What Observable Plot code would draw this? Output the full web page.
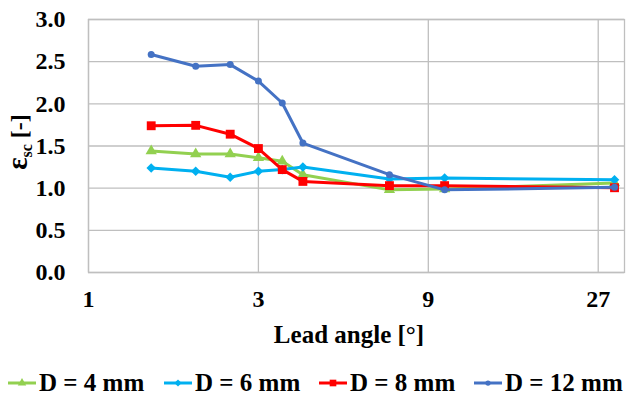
<!DOCTYPE html>
<html>
<head>
<meta charset="utf-8">
<script src="https://cdn.jsdelivr.net/npm/d3@7"></script>
<script src="https://cdn.jsdelivr.net/npm/@observablehq/plot@0.6"></script>
</head>
<body style="margin:0;background:#fff">
<div id="chart"></div>
<div id="legend" style="position:relative;height:47px"></div>
<script>
const angles = [1.5, 2, 2.5, 3, 3.5, 4, 7, 10, 30];
const seriesNames = ["D = 4 mm", "D = 6 mm", "D = 8 mm", "D = 12 mm"];
const d4  = [1.44, 1.405, 1.405, 1.36, 1.32, 1.16, 0.98, 0.99, 1.06];
const d6  = [1.24, 1.20, 1.13, 1.20, 1.22, 1.25, 1.11, 1.12, 1.10];
const d8  = [1.74, 1.745, 1.64, 1.47, 1.22, 1.08, 1.03, 1.03, 1.005];
const d12 = [2.585, 2.445, 2.465, 2.27, 2.01, 1.535, 1.16, 0.98, 1.01];
const xTicks = [1, 3, 9, 27];
const yTicks = [0, 0.5, 1.0, 1.5, 2.0, 2.5, 3.0];

const FONT = `"Liberation Serif"`;
const colors = ["#92D050", "#00B0F0", "#FF0000", "#4472C4"];
const symbols = ["triangle", d3.symbolDiamond2, "square", "circle"];
const radii = [4.2, 4.3, 5, 3.5];
const values = [d4, d6, d8, d12];

const marks = [
  Plot.gridX(xTicks, {stroke: "#bfbfbf", strokeOpacity: 1, strokeWidth: 1.3}),
  Plot.gridY(yTicks, {stroke: "#bfbfbf", strokeOpacity: 1, strokeWidth: 1.3}),
  Plot.frame({stroke: "#bfbfbf", strokeWidth: 1.3}),
  Plot.axisX(xTicks, {tickSize: 0, tickPadding: 17, tickFormat: d => String(d), label: null, fontSize: 24, fill: "#000"}),
  Plot.axisY(yTicks, {tickSize: 0, tickPadding: 23, tickFormat: d => d.toFixed(1), label: null, fontSize: 24, fill: "#000"})
];

values.forEach((vals, i) => {
  const rows = angles.map((a, j) => ({angle: a, v: vals[j], series: seriesNames[i]}));
  marks.push(Plot.line(rows, {x: "angle", y: "v", stroke: colors[i], strokeWidth: 3}));
  marks.push(Plot.dot(rows, {x: "angle", y: "v", symbol: symbols[i], r: radii[i], fill: colors[i], stroke: "none"}));
});

const chart = Plot.plot({
  width: 627,
  height: 350,
  marginTop: 19,
  marginBottom: 78,
  marginLeft: 88,
  marginRight: 3,
  x: {type: "log", base: 3, domain: [1, 32]},
  y: {domain: [0, 3]},
  style: {fontWeight: "bold", fontSize: "24px", background: "#fff", overflow: "visible"},
  marks
});
document.getElementById("chart").appendChild(chart);

const svg = d3.select(chart);
// x axis title
svg.append("text")
  .attr("x", 349).attr("y", 343)
  .attr("text-anchor", "middle")
  .attr("font-size", 25).attr("font-weight", "bold").attr("fill", "#000")
  .text("Lead angle [°]");
// y axis title with subscript
const yt = svg.append("text")
  .attr("transform", "translate(27,142) rotate(-90)")
  .attr("text-anchor", "middle")
  .attr("font-weight", "bold").attr("fill", "#000");
yt.append("tspan").attr("font-size", 29).text("ε");
yt.append("tspan").attr("font-size", 16).attr("dy", 5).text("sc");
yt.append("tspan").attr("font-size", 24).attr("dy", -5).text(" [-]");

// legend
const legendEl = document.getElementById("legend");
const starts = [8, 164, 319, 474];
seriesNames.forEach((name, i) => {
  const item = document.createElement("div");
  item.style.position = "absolute";
  item.style.left = starts[i] + "px";
  item.style.top = "18px";
  item.style.display = "flex";
  item.style.alignItems = "center";
  item.style.whiteSpace = "nowrap";
  item.style.fontWeight = "bold";
  item.style.fontSize = "25px";
  item.style.lineHeight = "29px";
  item.style.color = "#000";
  legendEl.appendChild(item);
  const s = d3.select(item).append("svg").attr("width", 28).attr("height", 16).style("margin-right", "3px");
  s.append("line").attr("x1", 0).attr("x2", 28).attr("y1", 8).attr("y2", 8).attr("stroke", colors[i]).attr("stroke-width", 3);
  const sym = typeof symbols[i] === "string"
    ? {triangle: d3.symbolTriangle, square: d3.symbolSquare, circle: d3.symbolCircle}[symbols[i]]
    : symbols[i];
  s.append("path").attr("transform", "translate(14,8)")
    .attr("d", d3.symbol(sym, Math.PI * (radii[i] * 0.75) ** 2)())
    .attr("fill", colors[i]);
  const span = document.createElement("span");
  span.textContent = name;
  item.appendChild(span);
});

// force the serif face everywhere
document.querySelectorAll("html, body, div, span, svg, g, text, tspan").forEach(el => {
  el.style.setProperty("font-family", FONT, "important");
  el.removeAttribute("font-family");
});
</script>
</body>
</html>
